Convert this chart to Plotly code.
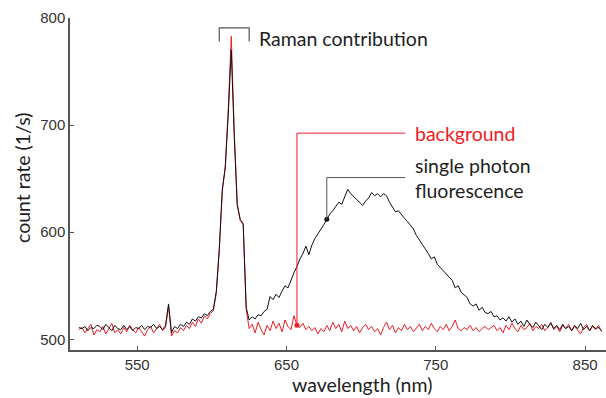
import plotly.graph_objects as go

wl_start = 511
wl_step = 2

total = [
    511, 510, 512, 508, 511, 510, 513, 512, 509, 514,
    511, 508, 513, 510, 509, 513, 509, 512, 508, 511,
    510, 513, 509, 512, 511, 514, 510, 512, 509, 513,
    533, 506, 512, 510, 514, 512, 516, 514, 519, 517,
    521, 520, 524, 522, 526, 528, 545, 585, 640, 660,
    710, 770, 690, 625, 612, 608, 530, 518, 521, 519,
    523, 522, 526, 528, 540, 537, 542, 539, 545, 550,
    548, 556, 562, 568, 575, 580, 587, 579, 588, 594,
    598, 603, 607, 612, 617, 620, 624, 628, 626, 634,
    640, 636, 633, 630, 627, 625, 629, 632, 637, 634,
    636, 633, 636, 634, 628, 624, 619, 620, 616, 613,
    610, 606, 603, 597, 593, 588, 585, 580, 575, 577,
    570, 567, 565, 561, 558, 555, 548, 550, 544, 541,
    539, 533, 531, 533, 527, 530, 525, 524, 526, 521,
    522, 518, 520, 517, 521, 516, 519, 514, 517, 512,
    518, 514, 511, 516, 512, 509, 514, 511, 515, 510,
    513, 509, 514, 510, 512, 508, 513, 510, 515, 509,
    512, 508, 513, 510, 511, 508,
]

background = [
    509, 511, 506, 510, 514, 504, 509, 507, 512, 505,
    510, 515, 506, 509, 505, 511, 507, 513, 509, 506,
    511, 507, 503, 509, 512, 506, 510, 514, 508, 511,
    531, 503, 508, 506, 511, 508, 513, 510, 516, 512,
    519, 515, 522, 519, 524, 527, 543, 583, 638, 662,
    715, 783, 695, 627, 611, 607, 528, 510, 514, 506,
    516, 509, 504, 513, 508, 517, 510, 515, 507, 518,
    512, 509, 522, 513, 511, 515, 509, 512, 508, 511,
    505, 510, 507, 513, 508, 516, 510, 514, 507, 517,
    510, 513, 508, 512, 506, 511, 514, 509, 512, 507,
    510, 504, 511, 516, 509, 513, 506, 511, 508, 514,
    509, 512, 507, 511, 514, 508, 512, 509, 515, 510,
    507, 512, 509, 514, 508, 512, 518, 510, 508, 511,
    509, 513, 508, 511, 507, 510, 512, 509, 511, 513,
    508, 511, 506, 513, 509, 515, 510, 507, 513, 509,
    511, 515, 508, 512, 510, 514, 508, 511, 516, 509,
    512, 507, 513, 510, 514, 508, 512, 509, 505, 511,
    514, 508, 512, 509, 513, 507,
]

if len(total) != len(background):
    raise SystemExit(f"length mismatch {len(total)} vs {len(background)}")

wavelength = [wl_start + wl_step * i for i in range(len(total))]

x_ticks = [550, 650, 750, 850]
y_ticks = [500, 600, 700, 800]

bg_marker_wl = 657
fl_marker_wl = 677
bg_idx = wavelength.index(bg_marker_wl)
fl_idx = wavelength.index(fl_marker_wl)

RED = "#ee1c25"
BLACK = "#111111"
TEXT = "#1e1e1e"
AXIS = "#555555"
FONT = "Lato"
FS = 19.5

fig = go.Figure()
fig.add_trace(go.Scatter(x=wavelength, y=background, mode="lines",
                         line=dict(color=RED, width=1), hoverinfo="skip"))
fig.add_trace(go.Scatter(x=wavelength, y=total, mode="lines",
                         line=dict(color=BLACK, width=1), hoverinfo="skip"))

# pointer dots
fig.add_trace(go.Scatter(x=[wavelength[bg_idx]], y=[background[bg_idx]], mode="markers",
                         marker=dict(color=RED, size=5), hoverinfo="skip"))
fig.add_trace(go.Scatter(x=[wavelength[fl_idx]], y=[total[fl_idx]], mode="markers",
                         marker=dict(color=BLACK, size=5), hoverinfo="skip"))

bg_y = 692.5
fl_y = 651
line_end = 729.5
text_x = 735

shapes = [
    # background pointer
    dict(type="line", x0=wavelength[bg_idx], x1=wavelength[bg_idx], y0=background[bg_idx], y1=bg_y,
         line=dict(color=RED, width=1)),
    dict(type="line", x0=wavelength[bg_idx], x1=line_end, y0=bg_y, y1=bg_y,
         line=dict(color=RED, width=1)),
    # fluorescence pointer
    dict(type="line", x0=wavelength[fl_idx], x1=wavelength[fl_idx], y0=total[fl_idx], y1=fl_y,
         line=dict(color=AXIS, width=1)),
    dict(type="line", x0=wavelength[fl_idx], x1=line_end, y0=fl_y, y1=fl_y,
         line=dict(color=AXIS, width=1)),
    # Raman bracket
    dict(type="path", path="M 605,778 L 605,790.7 L 625,790.7 L 625,778",
         line=dict(color=AXIS, width=1.2)),
]

annotations = [
    dict(x=630.5, y=781, text="Raman contribution", showarrow=False, xanchor="left", yanchor="middle",
         font=dict(family=FONT, size=FS, color=TEXT)),
    dict(x=text_x, y=bg_y, text="background", showarrow=False, xanchor="left", yanchor="middle",
         font=dict(family=FONT, size=FS, color=RED)),
    dict(x=text_x, y=fl_y - 0.5, text="single photon<br>fluorescence", showarrow=False, xanchor="left",
         yanchor="middle", align="left",
         font=dict(family=FONT, size=FS, color=TEXT)),
    dict(xref="paper", yref="paper", x=(362 - 70) / 536, y=(350 - 384) / 332, text="wavelength (nm)",
         showarrow=False, xanchor="center", yanchor="middle",
         font=dict(family=FONT, size=FS, color=TEXT)),
    dict(xref="paper", yref="paper", x=(22 - 70) / 536, y=(350 - 178) / 332, text="count rate (1/s)",
         showarrow=False, xanchor="center", yanchor="middle", textangle=-90,
         font=dict(family=FONT, size=FS, color=TEXT)),
]

fig.update_layout(
    width=606, height=398,
    margin=dict(l=70, r=0, t=18, b=48),
    paper_bgcolor="white", plot_bgcolor="white",
    showlegend=False,
    shapes=shapes, annotations=annotations,
    xaxis=dict(range=[505, 864], tickvals=x_ticks, ticktext=[str(v) for v in x_ticks],
               showgrid=False, zeroline=False, showline=True, linecolor=AXIS, linewidth=1.5,
               ticks="inside", ticklen=4, tickcolor=AXIS, tickwidth=1,
               tickfont=dict(family="Liberation Sans", size=15, color="#333333")),
    yaxis=dict(range=[490, 800], tickvals=y_ticks, ticktext=[str(v) for v in y_ticks],
               showgrid=False, zeroline=False, showline=True, linecolor=AXIS, linewidth=1.5,
               ticks="inside", ticklen=4, tickcolor=AXIS, tickwidth=1,
               tickfont=dict(family="Liberation Sans", size=15, color="#333333")),
)

fig.write_html("out.html")
